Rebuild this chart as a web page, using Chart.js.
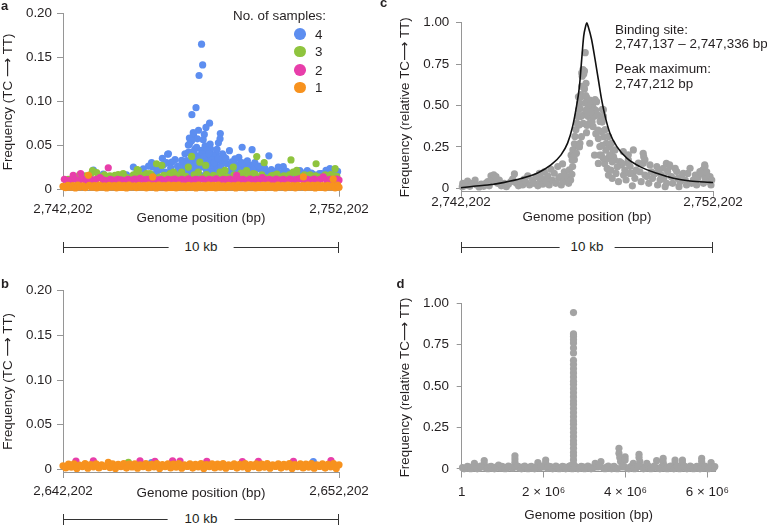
<!DOCTYPE html>
<html>
<head>
<meta charset="utf-8">
<script src="https://cdn.jsdelivr.net/npm/chart.js@4.4.1/dist/chart.umd.min.js"></script>
<style>
body { margin: 0; background: #fff; }
#fig { position: relative; width: 767px; height: 527px; overflow: hidden;
       font-family: 'Liberation Sans', Arial, Helvetica, sans-serif; color: #231f20; }
canvas { position: absolute; }
.letter { position: absolute; font-weight: bold; font-size: 13px; line-height: 13px; }
.txt { position: absolute; font-size: 13.4px; line-height: 15px; white-space: nowrap; }
.dot { position: absolute; width: 11.6px; height: 11.6px; border-radius: 50%; }
.bar { position: absolute; height: 1px; background: #333; }
.bar::before, .bar::after { content: ''; position: absolute; top: -5px; width: 1px; height: 11px; background: #333; }
.bar::before { left: 0; }
.bar::after { right: 0; }
.bar span { position: absolute; left: 50%; top: 0; transform: translate(-50%, -50%); background: #fff;
            font-size: 13.4px; line-height: 16px; white-space: nowrap; }
</style>
</head>
<body>
<div id="fig">
  <canvas id="chartA" width="380" height="235" style="left:0;top:0"></canvas>
  <canvas id="chartC" width="387" height="235" style="left:380px;top:0"></canvas>
  <canvas id="chartB" width="380" height="267" style="left:0;top:260px"></canvas>
  <canvas id="chartD" width="387" height="267" style="left:380px;top:260px"></canvas>

  <div class="letter" style="left:1px;top:-1.5px">a</div>
  <div class="letter" style="left:380px;top:-4.5px">c</div>
  <div class="letter" style="left:1px;top:277px">b</div>
  <div class="letter" style="left:396.5px;top:277px">d</div>

  <!-- legend of panel a -->
  <div class="txt" style="left:233px;top:8.4px">No. of samples:</div>
  <div class="dot" style="left:294.2px;top:28.2px;background:#5d8ef0"></div>
  <div class="dot" style="left:294.2px;top:45.9px;background:#8fc43e"></div>
  <div class="dot" style="left:294.2px;top:64.2px;background:#e83eaa"></div>
  <div class="dot" style="left:294.2px;top:81.5px;background:#f7921e"></div>
  <div class="txt" style="left:315px;top:26.7px">4</div>
  <div class="txt" style="left:315px;top:44.4px">3</div>
  <div class="txt" style="left:315px;top:62.7px">2</div>
  <div class="txt" style="left:315px;top:80px">1</div>

  <!-- notes of panel c -->
  <div class="txt" style="left:615px;top:21.7px">Binding site:</div>
  <div class="txt" style="left:615px;top:36.3px">2,747,137 – 2,747,336 bp</div>
  <div class="txt" style="left:615px;top:60.8px">Peak maximum:</div>
  <div class="txt" style="left:615px;top:76.4px">2,747,212 bp</div>

  <!-- 10 kb scale bars -->
  <div class="bar" style="left:63px;top:246.5px;width:276px"><span style="padding:0 16px">10 kb</span></div>
  <div class="bar" style="left:461px;top:246.5px;width:252px"><span style="padding:0 11px">10 kb</span></div>
  <div class="bar" style="left:63px;top:519px;width:276px"><span style="padding:0 17px">10 kb</span></div>
</div>

<script>
// colours
const INK = '#231f20';
const AXIS = '#969696';
const BLUE = '#5d8ef0', GREEN = '#8fc43e', MAGENTA = '#e83eaa', ORANGE = '#f7921e', GREY = '#a3a3a3';
const FONT = { family: "'Liberation Sans', Arial, Helvetica, sans-serif", size: 13.4 };
const TITLE_FONT = { family: "'Liberation Sans', 'DejaVu Sans', Arial, sans-serif", size: 13.4 };

// ---------- panel a: [kb from window start, frequency] ----------
const winLabelsA = ['2,742,202', '2,752,202'];
const freqTicks = [0, 0.05, 0.10, 0.15, 0.20];
const freqLabels = ['0', '0.05', '0.10', '0.15', '0.20'];

const blueA = [
  [5.02,.1646],[5.06,.141],[4.93,.129],[4.82,.0925],[4.67,.0845],[5.31,.0748],[5.18,.070],[4.91,.0668],
  [5.70,.063],[5.69,.057],[4.73,.0615],[5.12,.062],[5.08,.056],[4.87,.057],[4.58,.058],[4.66,.055],
  [5.63,.0525],[5.33,.051],[4.54,.050],[4.78,.0455],[4.84,.0475],[5.15,.049],[5.35,.0455],[5.02,.044],
  [5.21,.044],[6.03,.0436],[6.49,.0475],[6.85,.0447],[7.46,.0377],[6.37,.036],[3.79,.0395],[4.42,.040],
  [4.06,.0335],[3.94,.0305],[4.30,.0325],[4.48,.0324],[4.94,.038],[5.54,.040],[5.81,.0377],[5.45,.0384],
  [5.08,.0377],[4.90,.0361],[5.27,.0343],[5.57,.0324],[5.75,.030],[5.93,.029],[6.23,.0343],[6.41,.0287],
  [6.71,.0268],[7.02,.0231],[7.20,.0212],[7.44,.0193],[7.80,.0249],[8.02,.0212],[7.74,.0163],[8.22,.0175],
  [8.94,.0175],[9.19,.015],[9.37,.0175],[9.53,.0212],[9.67,.0231],[9.79,.0193],[4.66,.0268],[4.84,.0212],
  [5.20,.0212],[5.33,.0249],[5.51,.022],[5.57,.0175],[6.17,.0212],[6.53,.0249],[6.65,.0193],[6.05,.0137],
  [6.35,.012],[6.84,.0137],[7.14,.012],[7.62,.0175],[8.58,.021],[7.98,.0255],[9.07,.0168],[9.29,.0175],
  [9.73,.021],[0.55,.012],[1.10,.0215],[1.46,.017],[2.13,.012],[2.55,.0249],[2.91,.023],[3.21,.030],
  [3.25,.0249],[3.39,.0193],[3.82,.040],[4.12,.0193],[4.36,.0287],[4.54,.0417],[4.58,.051],[4.72,.064],
  [4.30,.0175],[4.48,.0212],[4.66,.0175],[4.78,.0212],[4.84,.0137],[4.54,.0137],[3.70,.0193],[2.79,.0137],
  [6.78,.0268],[7.50,.0156],[8.16,.0137],[9.55,.0175],[4.62,.015],[4.70,.023],[4.75,.032],[4.88,.028],
  [4.95,.016],[5.00,.025],[5.05,.032],[5.10,.015],[5.15,.029],[5.25,.016],[5.30,.030],[5.38,.019],
  [5.42,.027],[5.60,.025],[5.65,.015],[5.80,.021],[5.85,.033],[5.97,.018],[6.10,.026],[6.28,.018],
  [6.45,.020],[6.60,.015],
  [3.55,.022],[3.65,.028],[3.90,.024],[4.00,.018],[4.15,.026],[4.25,.022],[4.40,.019],[4.45,.025],
  [4.60,.030],[4.68,.042],[4.75,.040],[4.80,.028],[4.98,.030],[5.05,.040],[5.12,.036],[5.22,.028],
  [5.28,.040],[5.40,.033],[5.48,.030],[5.58,.045],[5.62,.035],[5.72,.025],[5.78,.040],[5.90,.035],
  [6.00,.020],[6.12,.031],[6.20,.028],[6.30,.025],[6.48,.030],[6.58,.020],[6.68,.032],[6.90,.022],
  [6.95,.030],[7.10,.026],[7.30,.024],[7.38,.018],[7.55,.022],[7.70,.020],[7.90,.018],[8.10,.020],
  [8.30,.016],[8.45,.019],[8.70,.018],[8.85,.021],[9.00,.018],[9.45,.016],[9.85,.017],[9.95,.020],
  [2.30,.016],[2.70,.018],[3.00,.016],[3.10,.026],[3.45,.024],[3.60,.035],[3.75,.030]
];
const greenA = [
  [0.19,.011],[0.68,.0138],[1.07,.021],[1.22,.0187],[1.34,.0137],[1.88,.0156],[2.18,.0175],[2.61,.0156],
  [2.67,.018],[2.69,.022],[2.73,.0212],[2.91,.0156],[3.03,.0175],[3.15,.0175],[3.39,.0287],[3.58,.0268],
  [3.82,.0156],[3.88,.0175],[4.00,.0193],[4.30,.0193],[4.54,.025],[4.66,.037],[4.90,.0193],[4.96,.0305],
  [5.17,.0268],[5.45,.0156],[5.69,.0193],[5.87,.0212],[5.93,.0137],[6.17,.025],[6.41,.0156],[6.65,.021],
  [6.89,.0175],[7.02,.0369],[7.29,.030],[7.62,.0156],[8.26,.0331],[8.34,.0193],[8.47,.0212],[8.89,.012],
  [9.17,.0287],[9.43,.0137],[9.86,.0231],[9.92,.0145],[0.45,.012],[0.90,.013],[1.60,.0125],[2.30,.013],
  [2.45,.0125],[3.30,.013],[3.50,.0135],[4.20,.013],[4.45,.0145],[5.05,.013],[5.30,.0125],[5.55,.0135],
  [6.05,.0125],[6.30,.013],[6.55,.0135],[6.80,.0125],[7.05,.0135],[7.30,.013],[7.45,.0125],[7.85,.0135],
  [8.10,.013],[8.60,.0125],[8.75,.016],[9.05,.0125],[9.30,.0135],[9.60,.013],[9.75,.012],
  [0.60,.016],[0.80,.015],[1.00,.0165],[1.50,.016],[1.70,.015],[2.00,.0165],[2.55,.016],[2.85,.015],
  [3.20,.016],[3.65,.0155],[3.95,.015],[4.10,.016],[4.75,.016],[5.20,.0165],[5.75,.0155],[6.20,.016],
  [6.45,.018],[6.75,.0155],[6.95,.017],[7.20,.016],[7.55,.015],[7.75,.017],[8.00,.015],[8.20,.016],
  [8.50,.0155],[8.95,.016],[9.15,.015],[9.50,.016],[9.70,.0165],[9.85,.015]
];
const magentaA = [
  [0.05,.011],[0.18,.0095],[0.30,.0105],[0.37,.0156],[0.45,.011],[0.58,.0095],[0.64,.0175],[0.75,.011],
  [0.85,.0095],[0.98,.0115],[1.08,.010],[1.20,.011],[1.34,.013],[1.45,.0105],[1.55,.0095],[1.64,.0242],
  [1.72,.011],[1.85,.0098],[1.98,.011],[2.10,.0105],[2.22,.0095],[2.35,.011],[2.49,.0102],[2.60,.0112],
  [2.72,.0098],[2.79,.012],[2.92,.0105],[3.05,.011],[3.18,.0098],[3.30,.0112],[3.42,.0102],[3.55,.011],
  [3.68,.0095],[3.80,.011],[3.92,.0105],[4.05,.0112],[4.18,.0098],[4.30,.011],[4.42,.0102],[4.55,.0115],
  [4.68,.0098],[4.80,.011],[4.92,.0105],[5.05,.0112],[5.18,.0098],[5.30,.011],[5.42,.0102],[5.55,.0115],
  [5.68,.0098],[5.80,.011],[5.92,.0105],[6.05,.0112],[6.18,.0098],[6.29,.0156],[6.40,.0105],[6.52,.011],
  [6.65,.0098],[6.78,.0112],[6.90,.0102],[7.02,.011],[7.15,.0098],[7.22,.013],[7.35,.0105],[7.48,.011],
  [7.60,.0098],[7.72,.0112],[7.85,.0102],[7.98,.011],[8.10,.0098],[8.22,.0112],[8.35,.0102],[8.47,.011],
  [8.59,.0118],[8.72,.0098],[8.85,.011],[8.98,.0102],[9.10,.0112],[9.22,.0098],[9.32,.011],[9.43,.0137],
  [9.55,.0102],[9.68,.011],[9.80,.0098],[9.92,.0112],[10.0,.0102]
];
const orangeA = [
  [0.00,.003],[0.09,.0015],[0.18,.0042],[0.27,.002],[0.36,.0038],[0.45,.0012],[0.54,.0044],[0.63,.0022],
  [0.72,.0036],[0.81,.0015],[0.92,.0156],[0.95,.0042],[1.04,.002],[1.13,.004],[1.22,.0013],[1.31,.0045],
  [1.40,.002],[1.49,.0037],[1.58,.0012],[1.67,.0043],[1.76,.0021],[1.85,.0039],[1.94,.0014],[2.03,.0044],
  [2.12,.0018],[2.21,.004],[2.30,.0012],[2.39,.0045],[2.48,.0022],[2.57,.0036],[2.66,.0015],[2.75,.0042],
  [2.84,.002],[2.93,.004],[3.02,.0013],[3.11,.0045],[3.20,.0019],[3.25,.0138],[3.29,.0039],[3.38,.0012],
  [3.47,.0044],[3.56,.0021],[3.65,.0038],[3.74,.0014],[3.83,.0045],[3.92,.0018],[4.01,.0041],[4.10,.0013],
  [4.19,.0044],[4.28,.0022],[4.37,.0037],[4.46,.0015],[4.55,.0043],[4.64,.0019],[4.73,.004],[4.82,.0012],
  [4.91,.0045],[5.00,.0021],[5.09,.0038],[5.18,.0014],[5.27,.0044],[5.36,.0018],[5.45,.0041],[5.54,.0013],
  [5.63,.0045],[5.72,.002],[5.81,.0037],[5.90,.0015],[5.99,.0043],[6.08,.0021],[6.17,.004],[6.26,.0012],
  [6.35,.0045],[6.44,.0019],[6.53,.0038],[6.62,.0014],[6.71,.0044],[6.80,.0022],[6.89,.004],[6.98,.0013],
  [7.07,.0043],[7.16,.0018],[7.25,.0041],[7.34,.0015],[7.43,.0045],[7.52,.002],[7.61,.0037],[7.70,.0012],
  [7.79,.0044],[7.88,.0021],[7.97,.0039],[8.06,.0014],[8.15,.0045],[8.24,.0019],[8.33,.004],[8.42,.0013],
  [8.51,.0043],[8.60,.0022],[8.71,.0137],[8.69,.0038],[8.78,.0015],[8.87,.0044],[8.96,.002],[9.05,.0041],
  [9.14,.0012],[9.23,.0045],[9.32,.0018],[9.41,.0039],[9.50,.0014],[9.59,.0043],[9.68,.0021],[9.79,.0112],
  [9.77,.004],[9.86,.0013],[9.95,.0044],[10.0,.002]
];

// ---------- panel b ----------
const winLabelsB = ['2,642,202', '2,652,202'];
const blueB = [[3.21,.0075],[9.07,.0086]];
const greenB = [[2.37,.0078]];
const magentaB = [
  [0.47,.0092],[1.10,.0095],[2.79,.0094],[3.33,.0088],[3.97,.0094],[4.24,.0092],[5.21,.0088],
  [6.50,.0086],[7.08,.0088],[8.35,.009],[9.71,.0098]
];
const orangeB = [
  [0.00,.004],[0.10,.0015],[0.20,.0058],[0.30,.0025],[0.40,.0062],[0.50,.001],[0.60,.0048],[0.70,.003],
  [0.80,.0064],[0.90,.0012],[1.00,.0052],[1.10,.0028],[1.20,.006],[1.30,.0015],[1.40,.005],[1.50,.0032],
  [1.64,.0078],[1.70,.002],[1.80,.0062],[1.90,.001],[2.00,.0055],[2.10,.003],[2.20,.0064],[2.30,.0014],
  [2.40,.0058],[2.50,.0026],[2.60,.0062],[2.70,.0012],[2.80,.005],[2.90,.003],[3.00,.0064],[3.10,.0015],
  [3.20,.0056],[3.30,.0028],[3.40,.0063],[3.50,.001],[3.60,.0052],[3.70,.003],[3.80,.0062],[3.90,.0016],
  [4.00,.0058],[4.10,.0025],[4.20,.0064],[4.30,.0012],[4.40,.005],[4.50,.0032],[4.60,.0062],[4.70,.0014],
  [4.80,.0056],[4.90,.0028],[5.00,.0063],[5.10,.001],[5.20,.0054],[5.30,.003],[5.40,.0062],[5.50,.0016],
  [5.60,.0058],[5.70,.0025],[5.80,.0064],[5.90,.0012],[6.00,.005],[6.10,.0032],[6.20,.0062],[6.30,.0014],
  [6.40,.0056],[6.50,.0028],[6.60,.0063],[6.70,.001],[6.80,.0054],[6.90,.003],[7.00,.0062],[7.10,.0016],
  [7.20,.0058],[7.30,.0025],[7.40,.0064],[7.50,.0012],[7.60,.005],[7.70,.0032],[7.80,.0062],[7.90,.0014],
  [8.00,.0056],[8.10,.0028],[8.20,.0063],[8.30,.001],[8.40,.0054],[8.50,.003],[8.60,.0062],[8.70,.0016],
  [8.80,.0058],[8.90,.0025],[9.00,.0064],[9.10,.0012],[9.20,.005],[9.30,.0032],[9.40,.0062],[9.50,.0014],
  [9.60,.0056],[9.70,.0028],[9.80,.0063],[9.90,.001],[10.0,.005]
];

// ---------- panel c: relative frequency, [kb, value] ----------
const relTicks = [0, 0.25, 0.5, 0.75, 1];
const relLabels = ['0', '0.25', '0.50', '0.75', '1.00'];
const greyC = [
  [0.05,.010],[0.07,.030],[0.15,.015],[0.26,.044],[0.35,.012],[0.46,.030],[0.56,.050],[0.62,.020],
  [0.72,.008],[0.80,.025],[0.90,.012],[0.98,.030],[1.06,.040],[1.12,.015],[1.19,.075],[1.25,.050],
  [1.30,.081],[1.39,.070],[1.45,.030],[1.52,.050],[1.60,.015],[1.72,.030],[1.80,.010],[1.88,.025],
  [1.98,.040],[2.05,.055],[2.12,.087],[2.20,.030],[2.28,.015],[2.38,.034],[2.45,.020],[2.51,.055],
  [2.58,.035],[2.65,.075],[2.72,.020],[2.84,.050],[2.90,.030],[2.98,.070],[3.05,.015],[3.11,.091],
  [3.15,.045],[3.20,.060],[3.25,.025],[3.31,.100],[3.38,.040],[3.44,.075],[3.50,.020],[3.57,.115],
  [3.62,.050],[3.70,.091],[3.76,.030],[3.84,.131],[3.88,.060],[3.94,.070],[3.98,.020],[4.03,.147],
  [4.06,.040],[4.10,.100],[4.15,.065],[4.23,.070],[4.27,.030],[4.30,.111],[4.35,.050],[4.37,.200],
  [4.40,.085],[4.43,.131],[4.44,.232],[4.50,.269],[4.50,.172],[4.52,.313],[4.56,.354],[4.58,.211],
  [4.60,.394],[4.63,.434],[4.66,.252],[4.67,.475],[4.70,.250],[4.71,.515],[4.76,.566],[4.79,.616],
  [4.81,.677],[4.84,.717],[4.48,.191],[4.41,.171],
  [4.93,.819],[4.90,.708],[4.87,.690],[4.96,.634],[4.66,.553],[4.76,.553],[4.98,.549],[5.11,.533],
  [5.24,.513],[5.38,.523],[5.61,.477],[4.72,.483],[4.76,.433],[4.87,.443],[5.05,.433],[5.28,.433],
  [4.85,.392],[5.09,.392],[4.69,.382],[5.24,.372],[5.44,.352],[5.57,.342],[4.98,.336],[4.78,.312],
  [5.67,.312],[5.77,.272],[5.90,.252],[4.72,.272],[5.11,.272],[5.51,.252],[6.04,.231],[5.57,.201],
  [5.84,.181],[6.10,.171],[6.30,.161],[6.37,.141],[6.63,.151],[7.23,.211],[7.25,.191],[7.23,.151],
  [6.83,.091],[8.15,.151],[8.28,.141],[9.67,.141],[9.60,.111],[9.80,.070],
  [4.79,.697],[4.92,.515],[5.32,.535],[5.25,.485],[5.65,.475],[5.65,.434],[5.52,.404],[5.72,.354],
  [5.85,.313],[5.98,.273],[6.11,.232],[6.05,.192],[6.44,.222],[6.64,.202],[6.84,.232],[6.64,.172],
  [6.38,.152],[6.71,.131],[7.04,.152],[7.30,.172],[7.50,.141],[7.77,.131],[8.03,.121],[8.29,.131],
  [8.56,.101],[8.82,.091],[9.09,.121],[9.48,.101],[9.68,.131],[9.88,.071],[7.37,.071],[7.90,.051],
  [8.16,.030],[8.69,.040],[9.22,.050],
  [5.70,.150],[5.80,.120],[5.85,.080],[5.90,.200],[6.00,.160],[5.75,.230],[5.60,.400],[5.45,.440],
  [5.35,.470],[5.15,.460],[5.00,.380],[4.95,.470],[4.90,.600],[4.95,.560],[5.05,.500],[5.20,.400],
  [5.35,.330],[5.45,.300],[5.50,.200],[5.60,.260],[5.65,.180],[5.30,.200],[5.45,.150],
  [5.95,.110],[6.00,.060],[6.15,.090],[6.20,.130],[6.25,.040],[6.45,.080],[6.50,.110],[6.55,.050],
  [6.70,.090],[6.80,.015],[6.90,.060],[6.95,.110],[7.10,.100],[7.15,.040],[7.30,.080],[7.45,.030],
  [7.55,.100],[7.60,.060],[7.70,.090],[7.80,.020],[7.85,.110],[7.95,.080],[8.05,.060],[8.10,.010],
  [8.20,.100],[8.35,.070],[8.40,.030],[8.50,.120],[8.60,.060],[8.65,.010],[8.75,.070],[8.90,.050],
  [8.95,.020],[9.00,.090],[9.15,.030],[9.30,.080],[9.35,.020],[9.40,.060],[9.55,.085],[9.62,.030],
  [9.70,.060],[9.75,.100],[9.85,.040],[9.92,.020],[9.95,.050]
];
// fitted peak
const fitX = [0, 0.5, 1.06, 1.72, 2.38, 3.04, 3.57, 3.97, 4.23, 4.43, 4.56, 4.70, 4.80, 4.87, 4.94, 4.99,
              5.05, 5.18, 5.32, 5.45, 5.58, 5.72, 5.91, 6.18, 6.58, 7.10, 7.77, 8.43, 9.09, 9.88, 10];
const fitY = [0.003, 0.012, 0.02, 0.036, 0.059, 0.093, 0.141, 0.202, 0.273, 0.374, 0.475, 0.616, 0.798, 0.92,
              0.975, 1.0, 0.975, 0.90, 0.778, 0.657, 0.535, 0.434, 0.333, 0.253, 0.182, 0.131, 0.091,
              0.061, 0.044, 0.036, 0.035];

// ---------- panel d: whole genome, [Mb, value] ----------
const genomeTicks = [0.000001, 2, 4, 6];
const genomeLabels = ['1', '2 × 10⁶', '4 × 10⁶', '6 × 10⁶'];
const greyD = [
  [0.02,.008],[0.10,.004],[0.18,.012],[0.26,.006],[0.31,.034],[0.34,.010],[0.42,.005],[0.50,.012],
  [0.55,.050],[0.55,.030],[0.60,.006],[0.68,.013],[0.76,.005],[0.84,.011],[0.90,.024],[0.95,.006],
  [1.02,.012],[1.10,.004],[1.18,.013],[1.24,.006],[1.30,.080],[1.30,.060],[1.30,.040],[1.34,.012],
  [1.42,.005],[1.50,.013],[1.58,.006],[1.66,.012],[1.74,.004],[1.82,.013],[1.86,.038],[1.90,.006],
  [1.98,.012],[2.05,.054],[2.05,.035],[2.10,.005],[2.18,.013],[2.26,.006],[2.34,.012],[2.42,.004],
  [2.50,.013],[2.58,.006],[2.66,.020],[2.80,.012],[2.88,.005],[2.96,.013],[3.04,.006],[3.12,.012],
  [3.20,.004],[3.26,.034],[3.32,.012],[3.40,.044],[3.46,.006],[3.54,.012],[3.62,.004],[3.70,.013],
  [3.76,.006],[3.84,.125],[3.84,.095],[3.86,.070],[3.88,.045],[3.92,.012],[3.99,.074],[3.99,.055],
  [4.04,.006],[4.12,.013],[4.19,.034],[4.26,.006],[4.33,.089],[4.33,.070],[4.35,.045],[4.40,.012],
  [4.48,.005],[4.52,.034],[4.58,.013],[4.66,.006],[4.72,.012],[4.76,.050],[4.80,.004],[4.88,.013],
  [4.92,.064],[4.92,.040],[4.98,.006],[5.06,.012],[5.14,.004],[5.21,.054],[5.21,.035],[5.28,.012],
  [5.36,.006],[5.39,.054],[5.39,.035],[5.46,.013],[5.54,.005],[5.62,.012],[5.70,.004],[5.78,.013],
  [5.86,.064],[5.86,.045],[5.90,.006],[5.98,.012],[6.05,.004],[6.09,.038],[6.12,.012],[6.15,.006],
  [0.06,.001],[0.14,.016],[0.22,.002],[0.30,.015],[0.38,.001],[0.46,.017],[0.64,.002],[0.72,.016],
  [0.80,.001],[0.98,.016],[1.06,.002],[1.14,.017],[1.38,.016],[1.46,.001],[1.54,.017],[1.62,.002],
  [1.70,.016],[1.78,.001],[1.94,.017],[2.14,.016],[2.22,.001],[2.30,.017],[2.38,.002],[2.46,.016],
  [2.54,.001],[2.62,.016],[2.70,.002],[2.76,.017],[2.84,.001],[2.92,.016],[3.00,.002],[3.08,.017],
  [3.16,.001],[3.36,.016],[3.50,.002],[3.58,.017],[3.66,.001],[3.72,.016],[3.80,.002],[3.96,.016],
  [4.08,.001],[4.16,.017],[4.22,.002],[4.30,.016],[4.44,.001],[4.56,.016],[4.62,.002],[4.70,.017],
  [4.84,.001],[4.96,.016],[5.02,.002],[5.10,.017],[5.18,.001],[5.26,.016],[5.32,.002],[5.44,.016],
  [5.50,.001],[5.58,.017],[5.66,.002],[5.74,.016],[5.82,.001],[5.94,.017],[6.02,.002],[6.18,.015]
];
const peakPosD = 2.73;
const peakColD = [0.01, 0.03, 0.055, 0.08, 0.10, 0.125, 0.15, 0.17, 0.195, 0.22, 0.245, 0.27, 0.29, 0.315,
                  0.34, 0.365, 0.39, 0.41, 0.435, 0.46, 0.485, 0.51, 0.53, 0.555, 0.58, 0.605, 0.63, 0.655,
                  0.70, 0.73, 0.76, 0.78, 0.80, 0.815, 0.944];

// ---------- helpers ----------
const pts = arr => arr.map(p => ({ x: p[0], y: p[1] }));

function dots(arr, color) {
  return {
    data: pts(arr), pointRadius: 3.6, pointHoverRadius: 3.6, pointBorderWidth: 0,
    pointBackgroundColor: color, pointBorderColor: color, backgroundColor: color, borderColor: color,
    showLine: false, clip: false
  };
}

function makePanel(id, datasets, o) {
  return new Chart(document.getElementById(id), {
    type: 'scatter',
    data: { datasets: datasets },
    options: {
      animation: false, responsive: false, devicePixelRatio: 1, events: [],
      layout: { padding: { left: 0, top: o.top, right: o.right, bottom: 0 } },
      plugins: { legend: { display: false }, tooltip: { enabled: false } },
      scales: {
        x: {
          type: 'linear', bounds: 'data', min: o.xMin, max: o.xMax,
          afterFit: s => { s.height = o.xH; },
          afterBuildTicks: s => { s.ticks = o.xTicks.map(v => ({ value: v })); },
          ticks: { callback: (v, i) => o.xLabels[i], padding: o.xPad, maxRotation: 0, autoSkip: false,
                   color: INK, font: FONT },
          grid: { drawOnChartArea: false, tickLength: o.xTl, color: AXIS },
          border: { color: AXIS },
          title: { display: true, text: 'Genome position (bp)', color: INK, font: FONT,
                   padding: { top: 0, bottom: o.xTitlePad } }
        },
        y: {
          type: 'linear', bounds: 'data', min: o.yMin, max: o.yMax,
          afterFit: s => { s.width = o.yW; },
          afterBuildTicks: s => { s.ticks = o.yTicks.map(v => ({ value: v })); },
          ticks: { callback: (v, i) => o.yLabels[i], padding: o.yPad, autoSkip: false, color: INK, font: FONT },
          grid: { drawOnChartArea: false, tickLength: o.yTl, color: AXIS },
          border: { color: AXIS },
          title: { display: true, text: o.yTitle, color: INK, font: TITLE_FONT,
                   padding: { top: o.yTitlePad, bottom: 0 } }
        }
      }
    }
  });
}

// a  (first dataset is drawn on top)
makePanel('chartA',
  [dots(orangeA, ORANGE), dots(magentaA, MAGENTA), dots(greenA, GREEN), dots(blueA, BLUE)],
  { top: 10, right: 41, xMin: 0, xMax: 10, xH: 44.3, xTicks: [0, 10], xLabels: winLabelsA,
    xPad: 4.3, xTl: 6, xTitlePad: 8.7, yMin: -0.0019, yMax: 0.2, yW: 63, yTicks: freqTicks,
    yLabels: freqLabels, yPad: 5, yTl: 6, yTitle: 'Frequency (TC ⟶ TT)', yTitlePad: 0.3 });

// b
makePanel('chartB',
  [dots(orangeB, ORANGE), dots(magentaB, MAGENTA), dots(greenB, GREEN), dots(blueB, BLUE)],
  { top: 30.7, right: 41, xMin: 0, xMax: 10, xH: 55, xTicks: [0, 10], xLabels: winLabelsB,
    xPad: 5.7, xTl: 6, xTitlePad: 25.7, yMin: -0.003, yMax: 0.2, yW: 63, yTicks: freqTicks,
    yLabels: freqLabels, yPad: 5, yTl: 6, yTitle: 'Frequency (TC ⟶ TT)', yTitlePad: 0.3 });

// c
const fitLine = {
  type: 'line', data: fitX.map((x, i) => ({ x: x, y: fitY[i] })), showLine: true,
  borderColor: '#111', borderWidth: 1.6, pointRadius: 0, fill: false,
  cubicInterpolationMode: 'monotone', clip: false
};
makePanel('chartC',
  [fitLine, dots(greyC, GREY)],
  { top: 22.7, right: 54, xMin: 0, xMax: 10, xH: 43.3, xTicks: [0, 10], xLabels: winLabelsA,
    xPad: -2.4, xTl: 5, xTitlePad: 9.7, yMin: -0.0205, yMax: 1, yW: 81, yTicks: relTicks,
    yLabels: relLabels, yPad: 6.7, yTl: 5, yTitle: 'Frequency (relative TC⟶ TT)', yTitlePad: 17 });

// d
const colD = peakColD.map(v => [peakPosD, v]);
makePanel('chartD',
  [dots(greyD.concat(colD), GREY)],
  { top: 43.3, right: 51.4, xMin: 0, xMax: 6.2, xH: 55.5, xTicks: genomeTicks, xLabels: genomeLabels,
    xPad: 6.8, xTl: 6, xTitlePad: 4, yMin: -0.0151, yMax: 1, yW: 81.7, yTicks: relTicks,
    yLabels: relLabels, yPad: 7.7, yTl: 5, yTitle: 'Frequency (relative TC⟶ TT)', yTitlePad: 17 });
</script>
</body>
</html>
